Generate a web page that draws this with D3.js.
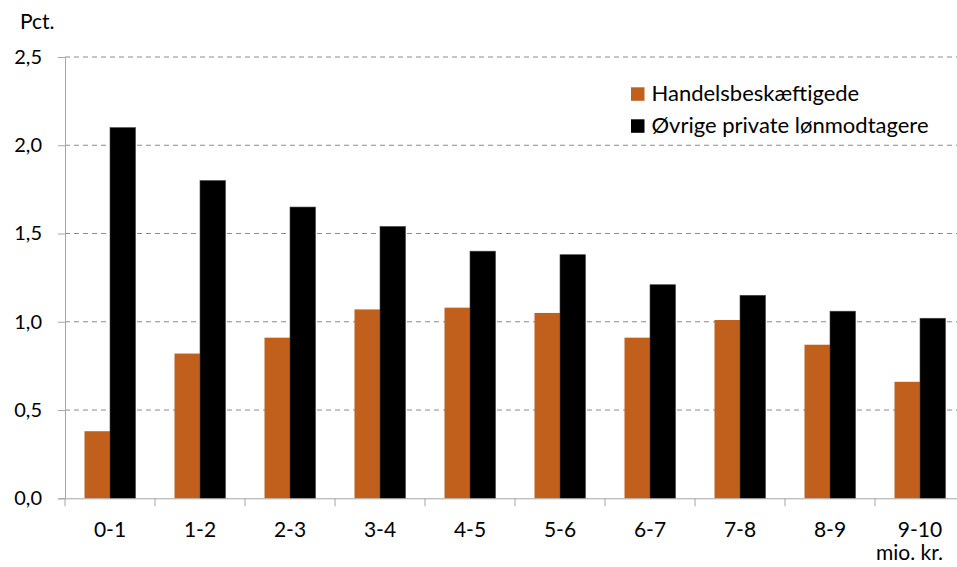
<!DOCTYPE html>
<html><head><meta charset="utf-8">
<script src="https://cdn.jsdelivr.net/npm/d3@7"></script>
<style>body{margin:0;background:#fff}svg{display:block}text{font-family:Lato,"Noto Sans",sans-serif;fill:#000}</style>
</head><body>
<svg id="c" width="957" height="567"></svg>
<script>
const categories = ["0-1","1-2","2-3","3-4","4-5","5-6","6-7","7-8","8-9","9-10"];
const seriesNames = ["Handelsbeskæftigede","Øvrige private lønmodtagere"];
const handel = [0.38,0.82,0.91,1.07,1.08,1.05,0.91,1.01,0.87,0.66];
const ovrige = [2.10,1.80,1.65,1.54,1.40,1.38,1.21,1.15,1.06,1.02];
const yTicks = [0,0.5,1.0,1.5,2.0,2.5];
const colors = ["#C0601C","#000000"];

(function(){
const svg = d3.select("#c");
const pL = 65, pR = 965, pT = 57, pB = 498.3;
const x = d3.scaleBand().domain(categories).range([pL,pR]).paddingInner(0).paddingOuter(0);
const y = d3.scaleLinear().domain([0,2.5]).range([pB,pT]);
const fmt = v => d3.format(".1f")(v).replace(".",",");
const fs = "20px";

// gridlines
svg.append("g").selectAll("line").data(yTicks.filter(t=>t>0)).join("line")
  .attr("x1",pL).attr("x2",pR).attr("y1",d=>y(d)).attr("y2",d=>y(d))
  .attr("stroke","#8c8c8c").attr("stroke-width",1).attr("stroke-dasharray","5,4");

// bars
const barW = 25.5;
const series = [handel, ovrige];
series.forEach((vals,si)=>{
  svg.append("g").selectAll("rect").data(categories).join("rect")
    .attr("x",(d)=>x(d)+x.bandwidth()/2 - barW + si*barW)
    .attr("y",(d,i)=>y(vals[i]))
    .attr("width",barW)
    .attr("height",(d,i)=>y(0)-y(vals[i]))
    .attr("fill",colors[si])
    .attr("stroke", si===1 ? "#444" : "none").attr("stroke-width",0.6);
});

// y axis
const yAxis = d3.axisLeft(y).tickValues(yTicks).tickFormat(fmt).tickSize(7).tickPadding(16);
const gy = svg.append("g").attr("transform",`translate(${pL},0)`).call(yAxis);
gy.attr("font-family",null).attr("font-size",null);
gy.select(".domain").attr("stroke","#a6a6a6");
gy.selectAll(".tick line").attr("stroke","#a6a6a6");
gy.selectAll(".tick text").style("font-size",fs).attr("fill","#000");

// x axis
const gx = svg.append("g").attr("transform",`translate(0,${pB})`)
  .call(d3.axisBottom(x).tickSize(0).tickPadding(24));
gx.attr("font-family",null).attr("font-size",null);
gx.select(".domain").attr("stroke","#a6a6a6");
gx.selectAll(".tick text").style("font-size","21px").attr("fill","#000");
// boundary ticks
svg.append("g").selectAll("line").data(categories.concat(["end"])).join("line")
  .attr("x1",(d,i)=>pL+i*x.bandwidth()).attr("x2",(d,i)=>pL+i*x.bandwidth())
  .attr("y1",pB).attr("y2",pB+8).attr("stroke","#a6a6a6");

// labels
svg.append("text").attr("x",20).attr("y",29).style("font-size","21px").text("Pct.");
svg.append("text").attr("x",943).attr("y",560).attr("text-anchor","end").style("font-size","21px").text("mio. kr.");

// legend
const lg = svg.append("g");
seriesNames.forEach((n,i)=>{
  const yy = 87.3 + i*32;
  lg.append("rect").attr("x",631).attr("y",yy).attr("width",13.5).attr("height",13.5).attr("fill",colors[i]);
  lg.append("text").attr("x",651.5).attr("y",yy+13.5).style("font-size","22px").text(n);
});
})();
</script>
</body></html>
